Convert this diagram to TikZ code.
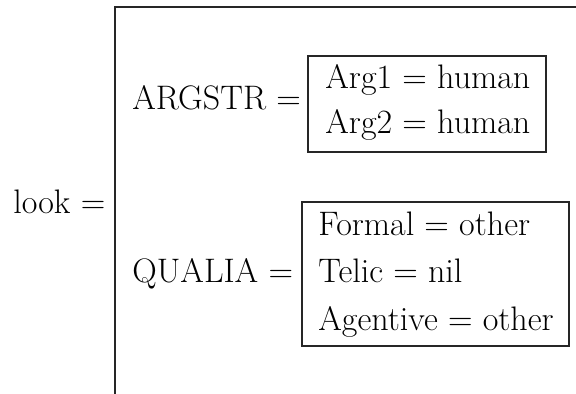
\documentclass[tikz,border=0pt]{standalone}
\usepackage{fontspec}
\setmainfont{Latin Modern Roman}
\usetikzlibrary{fit}
\begin{document}
\begin{tikzpicture}[x=0.5pt,y=-0.5pt,
  lbl/.style={font=\fontsize{17}{20}\selectfont, inner sep=0pt, anchor=base west},
  box/.style={draw=black!85, line width=0.6pt, inner sep=0pt},
  frame/.style={draw=black!85, line width=1pt}]
\useasboundingbox (0,0) rectangle (576,394);
% outer frame (top and left sides)
\coordinate (fbl) at (115,400);
\coordinate (ftl) at (115,7);
\coordinate (ftr) at (580,7);
\draw[frame] (fbl) -- (ftl) -- (ftr);
% labels
\node[lbl] (look) at (13,214) {look =};
\node[lbl] (argstr) at (132,110) {ARGSTR =};
\node[lbl] (qualia) at (132,283) {QUALIA =};
% argstr box
\node[lbl] (a1) at (325,89) {Arg1 = human};
\node[lbl] (a2) at (325,134) {Arg2 = human};
\coordinate (b1nw) at (308,56);
\coordinate (b1se) at (546,152);
\node[box, fit=(b1nw)(b1se)] (box1) {};
% qualia box
\node[lbl] (q1) at (318,236) {Formal = other};
\node[lbl] (q2) at (318,283) {Telic = nil};
\node[lbl] (q3) at (318,330) {Agentive = other};
\coordinate (b2nw) at (302,202);
\coordinate (b2se) at (569,346);
\node[box, fit=(b2nw)(b2se)] (box2) {};
\end{tikzpicture}
\end{document}
